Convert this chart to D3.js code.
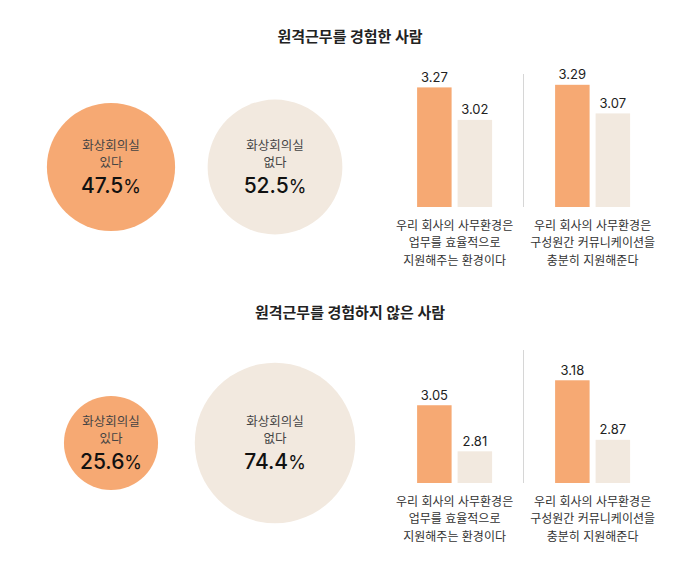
<!DOCTYPE html>
<html>
<head>
<meta charset="utf-8">
<script src="https://cdn.jsdelivr.net/npm/d3@7"></script>
<style>
  body { margin: 0; background: #fff; }
  svg { display: block; font-family: Inter, "Noto Sans CJK KR", sans-serif; }
</style>
</head>
<body>
<svg id="chart"></svg>
<script>
const sectionTitles = ["원격근무를 경험한 사람", "원격근무를 경험하지 않은 사람"];
const circleLabels = [["화상회의실", "있다"], ["화상회의실", "없다"]];
const circleShares = [[47.5, 52.5], [25.6, 74.4]];
const barGroups = ["있다", "없다"];
const barCategories = [
  ["우리 회사의 사무환경은", "업무를 효율적으로", "지원해주는 환경이다"],
  ["우리 회사의 사무환경은", "구성원간 커뮤니케이션을", "충분히 지원해준다"]
];
const barValues = [
  [[3.27, 3.02], [3.29, 3.07]],
  [[3.05, 2.81], [3.18, 2.87]]
];

const width = 700, height = 572;
const colors = ["#F6A973", "#F2E9DF"];
const sectionOffset = 276;
// bars are drawn on a cut axis, each block with its own range
const barDomains = [[2.35, 3.35], [2.645, 3.645]];
const barSpans = [130, 192];

const svg = d3.select("#chart").attr("width", width).attr("height", height);

const rScale = d3.scaleSqrt().domain([0, 100]).range([0, 93]);
const circleX = d3.scaleOrdinal().domain([0, 1]).range([111, 275]);
const panelX = d3.scaleBand().domain([0, 1]).range([385.6, 661.6]);
const groupX = d3.scaleBand().domain(barGroups).range([-37.5, 37.5]).paddingInner(0.148);

sectionTitles.forEach((title, s) => {
  const g = svg.append("g").attr("transform", `translate(0,${s * sectionOffset})`);

  g.append("text")
    .attr("x", 350).attr("y", 42)
    .attr("text-anchor", "middle")
    .style("font-size", "15px").style("font-weight", 700)
    .style("fill", "#222")
    .text(title);

  // circles
  const circ = g.selectAll(".circ")
    .data(circleShares[s])
    .join("g")
    .attr("class", "circ")
    .attr("transform", (d, i) => `translate(${circleX(i)},167)`);

  circ.append("circle")
    .attr("r", d => rScale(d))
    .style("fill", (d, i) => colors[i]);

  circ.each(function(d, i) {
    const c = d3.select(this);
    circleLabels[i].forEach((line, k) => {
      c.append("text")
        .attr("y", -17 + k * 17)
        .attr("text-anchor", "middle")
        .style("font-size", "12.5px")
        .style("fill", "#444")
        .text(line);
    });
    const t = c.append("text")
      .attr("y", 26)
      .attr("text-anchor", "middle")
      .style("fill", "#111");
    t.append("tspan").style("font-size", "21px").style("font-weight", 500).text(d.toFixed(1));
    t.append("tspan").style("font-size", "18px").style("font-weight", 400).text("%");
  });

  // bars
  const y = d3.scaleLinear().domain(barDomains[s]).range([207, 207 - barSpans[s]]);

  g.append("line")
    .attr("x1", 523.5).attr("x2", 523.5)
    .attr("y1", 74).attr("y2", 207)
    .style("stroke", "#d6d6d6").style("stroke-width", 1);

  const panel = g.selectAll(".panel")
    .data(barValues[s])
    .join("g")
    .attr("class", "panel")
    .attr("transform", (d, i) => `translate(${panelX(i) + panelX.bandwidth() / 2},0)`);

  panel.selectAll("rect")
    .data(d => d.map((v, j) => ({ group: barGroups[j], value: v, idx: j })))
    .join("rect")
    .attr("x", d => groupX(d.group))
    .attr("y", d => y(d.value))
    .attr("width", groupX.bandwidth())
    .attr("height", d => y(barDomains[s][0]) - y(d.value))
    .style("fill", d => colors[d.idx]);

  panel.selectAll(".val")
    .data(d => d.map((v, j) => ({ group: barGroups[j], value: v })))
    .join("text")
    .attr("class", "val")
    .attr("x", d => groupX(d.group) + groupX.bandwidth() / 2)
    .attr("y", d => y(d.value) - 5.5)
    .attr("text-anchor", "middle")
    .style("font-size", "13px")
    .style("fill", "#222")
    .text(d => d.value.toFixed(2));

  panel.each(function(d, i) {
    const p = d3.select(this);
    barCategories[i].forEach((line, k) => {
      p.append("text")
        .attr("y", 229.5 + k * 17.5)
        .attr("text-anchor", "middle")
        .style("font-size", "12px")
        .style("fill", "#333")
        .text(line);
    });
  });
});
</script>
</body>
</html>
